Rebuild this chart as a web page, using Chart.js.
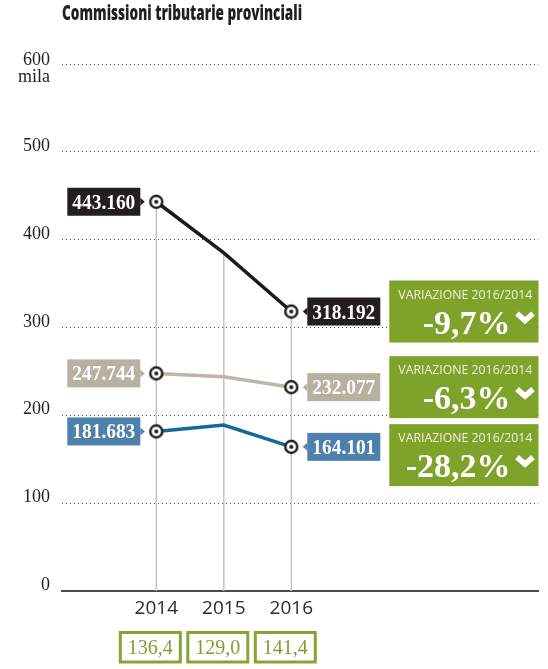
<!DOCTYPE html>
<html>
<head>
<meta charset="utf-8">
<script src="https://cdn.jsdelivr.net/npm/chart.js@4/dist/chart.umd.min.js"></script>
<style>
  html, body { margin: 0; padding: 0; background: #fff; }
  #wrap { position: relative; width: 548px; height: 669px; overflow: hidden; }
  #title { position: absolute; left: 62px; top: 2px; font: 800 21px/21px "Open Sans", sans-serif;
           color: #231f20; white-space: nowrap; transform-origin: left top; }
  canvas { position: absolute; left: 0; top: 0; }
</style>
</head>
<body>
<div id="wrap">
  <canvas id="c" width="548" height="669"></canvas>
  <div id="title">Commissioni tributarie provinciali</div>
</div>
<script>
// dati (migliaia)
const years = [2014, 2015, 2016];
const totale = [443.160, 385, 318.192];
const beige = [247.744, 244, 232.077];
const blu = [181.683, 189, 164.101];
const variazioni = ['-9,7%', '-6,3%', '-28,2%'];
const sotto = ['136,4', '129,0', '141,4'];
const yTicks = [0, 100, 200, 300, 400, 500, 600];

const SERIES = [
  { values: totale, line: '#1e1a1b', tag: '#231f20' },
  { values: beige,  line: '#bdb5a7', tag: '#b8b0a1' },
  { values: blu,    line: '#136a9a', tag: '#4e80ab' },
];
const GREEN = '#7fa22a';
const SERIF = '"Liberation Serif", "DejaVu Serif", serif';

// titolo compresso alla larghezza dell'originale
const t = document.getElementById('title');
t.style.transform = `scaleX(${240 / t.offsetWidth})`;

// marcatore: cerchio bianco con punto centrale
function makeMarker() {
  const c = document.createElement('canvas');
  c.width = c.height = 18;
  const g = c.getContext('2d');
  g.beginPath(); g.arc(9, 9, 6, 0, Math.PI * 2);
  g.fillStyle = '#fff'; g.fill();
  g.lineWidth = 2.4; g.strokeStyle = '#1a1a1a'; g.stroke();
  g.beginPath(); g.arc(9, 9, 2, 0, Math.PI * 2);
  g.fillStyle = '#1a1a1a'; g.fill();
  return c;
}
const marker = makeMarker();

function tag(ctx, text, px, py, side, color) {
  const w = 73, h = 28, gap = 16;
  const cy = py;
  const x0 = side === 'left' ? px - gap - w : px + gap;
  ctx.fillStyle = color;
  ctx.fillRect(x0, cy - h / 2, w, h);
  ctx.beginPath();
  if (side === 'left') {
    ctx.moveTo(x0 + w, cy - 4); ctx.lineTo(x0 + w + 4.5, cy); ctx.lineTo(x0 + w, cy + 4);
  } else {
    ctx.moveTo(x0, cy - 4); ctx.lineTo(x0 - 4.5, cy); ctx.lineTo(x0, cy + 4);
  }
  ctx.fill();
  ctx.fillStyle = '#fff';
  ctx.font = `700 20px ${SERIF}`;
  ctx.textAlign = 'center';
  ctx.textBaseline = 'alphabetic';
  const tw = ctx.measureText(text).width;
  ctx.save();
  ctx.translate(x0 + w / 2, cy + 7);
  ctx.scale(Math.min(1, (w - 10) / tw), 1);
  ctx.fillText(text, 0, 0);
  ctx.restore();
}

const decor = {
  id: 'decor',
  beforeDatasetsDraw(chart) {
    const { ctx, chartArea, scales: { x, y } } = chart;
    ctx.save();
    ctx.strokeStyle = '#cac4ba';
    ctx.lineWidth = 1.5;
    years.forEach((yr, i) => {
      const top = Math.max(...SERIES.map((s) => s.values[i]));
      const px = x.getPixelForValue(yr);
      ctx.beginPath();
      ctx.moveTo(px, y.getPixelForValue(top));
      ctx.lineTo(px, chartArea.bottom);
      ctx.stroke();
    });
    ctx.restore();
  },
  afterDatasetsDraw(chart) {
    const { ctx, chartArea, scales: { x, y } } = chart;
    ctx.save();

    // etichette asse y
    ctx.fillStyle = '#231f20';
    ctx.font = `18px ${SERIF}`;
    ctx.textAlign = 'right';
    ctx.textBaseline = 'alphabetic';
    yTicks.forEach((v) => {
      const py = y.getPixelForValue(v);
      if (v === 600) {
        ctx.fillText('600', 50, py + 1);
        ctx.fillText('mila', 50, py + 18);
      } else {
        ctx.fillText(String(v), 50, py - 1);
      }
    });

    // etichette valori
    const last = years.length - 1;
    SERIES.forEach((s) => {
      tag(ctx, s.values[0].toFixed(3), x.getPixelForValue(years[0]), y.getPixelForValue(s.values[0]), 'left', s.tag);
      tag(ctx, s.values[last].toFixed(3), x.getPixelForValue(years[last]), y.getPixelForValue(s.values[last]), 'right', s.tag);
    });

    // riquadri variazione
    const bx0 = x.getPixelForValue(years[last]) + 98;
    const bx1 = chartArea.right;
    const bh = 62;
    let prevBottom = -Infinity;
    SERIES.forEach((s, i) => {
      const cy = y.getPixelForValue(s.values[last]);
      const top = Math.max(cy - bh / 2, prevBottom + 6);
      prevBottom = top + bh;
      ctx.fillStyle = GREEN;
      ctx.fillRect(bx0, top, bx1 - bx0, bh);

      ctx.fillStyle = '#eef2de';
      ctx.font = '12px "Open Sans", sans-serif';
      ctx.textAlign = 'left';
      const lab = 'VARIAZIONE 2016/2014';
      const lw = ctx.measureText(lab).width;
      ctx.save();
      ctx.translate(bx0 + 9, top + 18);
      ctx.scale(134 / lw, 1);
      ctx.fillText(lab, 0, 0);
      ctx.restore();

      ctx.fillStyle = '#fff';
      ctx.font = `700 34px ${SERIF}`;
      ctx.textAlign = 'right';
      ctx.fillText(variazioni[i], bx1 - 28, top + bh - 9);

      // freccia giù
      const ax = bx1 - 13.5, ay = top + bh - 25;
      ctx.strokeStyle = '#fff';
      ctx.lineWidth = 5.5;
      ctx.lineJoin = 'miter';
      ctx.lineCap = 'butt';
      ctx.beginPath();
      ctx.moveTo(ax - 8, ay - 4);
      ctx.lineTo(ax, ay + 3);
      ctx.lineTo(ax + 8, ay - 4);
      ctx.stroke();
    });

    // riquadri sotto gli anni
    ctx.lineWidth = 3;
    ctx.strokeStyle = '#86a536';
    ctx.fillStyle = '#7f9f32';
    ctx.font = `20px ${SERIF}`;
    ctx.textAlign = 'center';
    years.forEach((yr, i) => {
      const cx = x.getPixelForValue(yr) - 6;
      const top = chartArea.bottom + 41.5;
      ctx.strokeRect(cx - 30, top, 60, 29.5);
      ctx.fillText(sotto[i], cx, top + 21.5);
    });

    ctx.restore();
  },
};

new Chart(document.getElementById('c'), {
  type: 'line',
  data: {
    datasets: SERIES.map((s) => ({
      data: years.map((yr, i) => ({ x: yr, y: s.values[i] })),
      borderColor: s.line,
      borderWidth: 3.5,
      pointStyle: marker,
      pointRadius: [6, 0, 6],
      pointHoverRadius: [6, 0, 6],
      tension: 0,
      clip: false,
    })).reverse(),
  },
  options: {
    responsive: false,
    animation: false,
    events: [],
    layout: { padding: { top: 64, right: 6, left: 0, bottom: 0 } },
    plugins: { legend: { display: false }, tooltip: { enabled: false } },
    scales: {
      x: {
        type: 'linear',
        min: 2012.603,
        max: 2019.662,
        afterBuildTicks: (s) => { s.ticks = years.map((v) => ({ value: v })); },
        afterFit: (s) => { s.height = 78; },
        grid: { display: false },
        border: { display: true, color: '#4a4a4a', width: 2 },
        ticks: {
          callback: (v) => String(v),
          autoSkip: false, maxRotation: 0, padding: -2,
          color: '#2a2a2a',
          font: { family: '"Open Sans", sans-serif', size: 19 },
        },
      },
      y: {
        min: 0,
        max: 600,
        afterFit: (s) => { s.width = 62; },
        ticks: { stepSize: 100, display: false },
        grid: { color: '#555', lineWidth: 1, drawTicks: false },
        border: { display: false, dash: [1, 3] },
      },
    },
  },
  plugins: [decor],
});
</script>
</body>
</html>
